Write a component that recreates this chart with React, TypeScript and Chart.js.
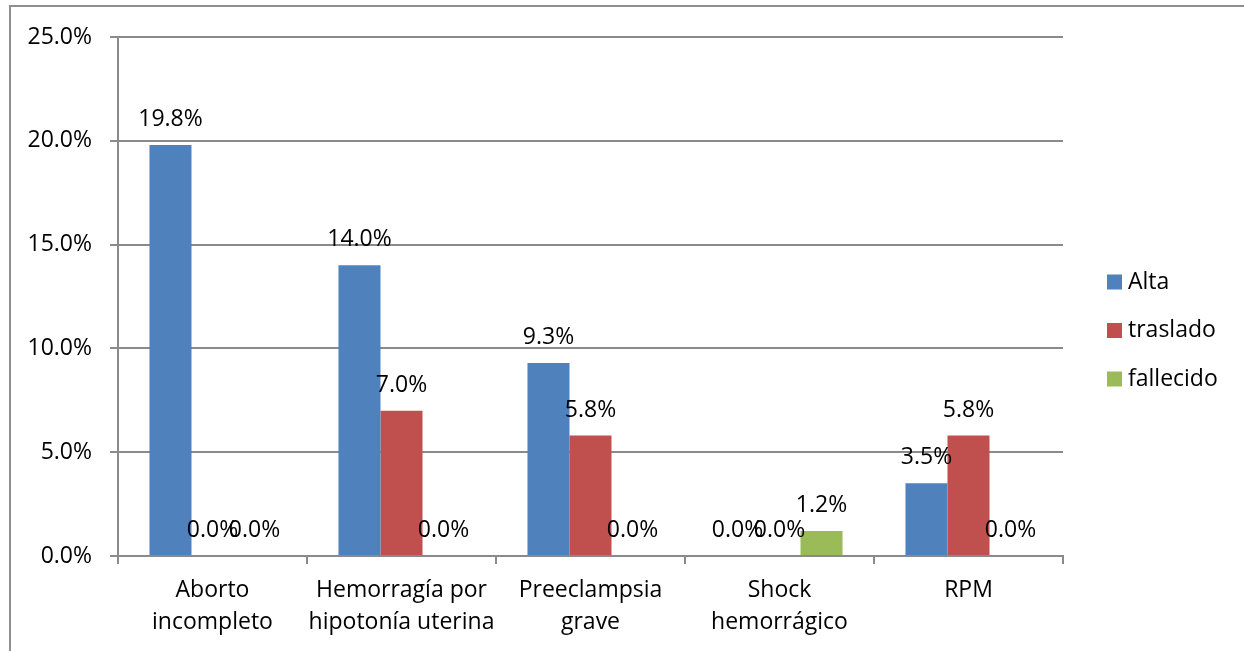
import { useEffect, useRef } from 'react';
import { Chart, registerables } from 'chart.js';

Chart.register(...registerables);

const categories: string[][] = [
  ['Aborto', 'incompleto'],
  ['Hemorragía por', 'hipotonía uterina'],
  ['Preeclampsia', 'grave'],
  ['Shock', 'hemorrágico'],
  ['RPM'],
];
const seriesNames = ['Alta', 'traslado', 'fallecido'];
const alta = [19.8, 14.0, 9.3, 0.0, 3.5];
const traslado = [0.0, 7.0, 5.8, 0.0, 5.8];
const fallecido = [0.0, 0.0, 0.0, 1.2, 0.0];
const yTicks = [0, 5, 10, 15, 20, 25];
const seriesColors = ['#4F81BD', '#C0504D', '#9BBB59'];

const FONT = '"Open Sans", "Noto Sans", sans-serif';
const FONT_SIZE = 23;
const GRID = '#8a8a8a';

const framePlugin = {
  id: 'frame',
  beforeDraw(chart: any) {
    const ctx = chart.ctx;
    ctx.save();
    ctx.strokeStyle = '#8f8f8f';
    ctx.lineWidth = 2;
    ctx.beginPath();
    ctx.moveTo(10, chart.height + 5);
    ctx.lineTo(10, 6);
    ctx.lineTo(chart.width + 5, 6);
    ctx.stroke();
    ctx.restore();
  },
};

const valueLabelPlugin = {
  id: 'valueLabels',
  afterDatasetsDraw(chart: any) {
    const ctx = chart.ctx;
    ctx.save();
    ctx.font = `${FONT_SIZE}px ${FONT}`;
    ctx.fillStyle = '#000';
    ctx.textAlign = 'center';
    ctx.textBaseline = 'alphabetic';
    chart.data.datasets.forEach((ds: any, i: number) => {
      const meta = chart.getDatasetMeta(i);
      meta.data.forEach((bar: any, j: number) => {
        const v = ds.data[j] as number;
        ctx.fillText(v.toFixed(1) + '%', bar.x, bar.y - 19);
      });
    });
    ctx.restore();
  },
};

const sideLegendPlugin = {
  id: 'sideLegend',
  afterDraw(chart: any) {
    const ctx = chart.ctx;
    const area = chart.chartArea;
    const x = area.right + 44;
    const midY = (area.top + area.bottom) / 2 + 34;
    const step = 48.5;
    const n = chart.data.datasets.length;
    ctx.save();
    ctx.font = `${FONT_SIZE}px ${FONT}`;
    ctx.textAlign = 'left';
    ctx.textBaseline = 'middle';
    chart.data.datasets.forEach((ds: any, i: number) => {
      const cy = midY + (i - (n - 1) / 2) * step;
      ctx.fillStyle = ds.backgroundColor;
      ctx.fillRect(x, cy - 7.5, 15, 15);
      ctx.fillStyle = '#000';
      ctx.fillText(ds.label, x + 21, cy);
    });
    ctx.restore();
  },
};

export default function App() {
  const canvasRef = useRef<HTMLCanvasElement | null>(null);

  useEffect(() => {
    document.body.style.margin = '0';
    let chart: Chart | null = null;
    let cancelled = false;
    const build = () => {
      if (cancelled || !canvasRef.current) return;
      const seriesData = [alta, traslado, fallecido];
      chart = new Chart(canvasRef.current, {
        type: 'bar',
        data: {
          labels: categories,
          datasets: seriesNames.map((name, i) => ({
            label: name,
            data: seriesData[i],
            backgroundColor: seriesColors[i],
            borderWidth: 0,
            categoryPercentage: 0.667,
            barPercentage: 1.0,
          })),
        },
        options: {
          responsive: false,
          animation: false,
          devicePixelRatio: 1,
          layout: { padding: { top: 37, left: 0, right: 181, bottom: 0 } },
          plugins: {
            legend: { display: false },
            tooltip: { enabled: false },
          },
          scales: {
            x: {
              grid: {
                display: true,
                offset: true,
                drawOnChartArea: false,
                drawTicks: true,
                tickLength: 8,
                color: GRID,
                lineWidth: 2,
              },
              border: { display: true, color: GRID, width: 2 },
              ticks: {
                color: '#000',
                font: { family: FONT, size: FONT_SIZE, lineHeight: 1.4 },
                padding: 10,
                maxRotation: 0,
                autoSkip: false,
              },
              afterFit(scale: any) {
                scale.height = 95;
              },
            },
            y: {
              min: 0,
              max: 25,
              afterBuildTicks(scale: any) {
                scale.ticks = yTicks.map((v) => ({ value: v }));
              },
              grid: {
                color: GRID,
                lineWidth: 2,
                drawTicks: true,
                tickLength: 8,
              },
              border: { display: true, color: GRID, width: 2 },
              ticks: {
                color: '#000',
                font: { family: FONT, size: FONT_SIZE },
                padding: 18,
                callback: (v: any) => Number(v).toFixed(1) + '%',
              },
              afterFit(scale: any) {
                scale.width = 118;
              },
            },
          },
        },
        plugins: [framePlugin, valueLabelPlugin, sideLegendPlugin],
      });
    };
    if ((document as any).fonts && (document as any).fonts.load) {
      (document as any).fonts
        .load(`${FONT_SIZE}px "Open Sans"`)
        .then(build, build);
    } else {
      build();
    }
    return () => {
      cancelled = true;
      if (chart) chart.destroy();
    };
  }, []);

  return (
    <div style={{ width: 1244, height: 651, position: 'relative', overflow: 'hidden', background: '#fff' }}>
      <canvas ref={canvasRef} width={1244} height={651} style={{ display: 'block' }} />
    </div>
  );
}
